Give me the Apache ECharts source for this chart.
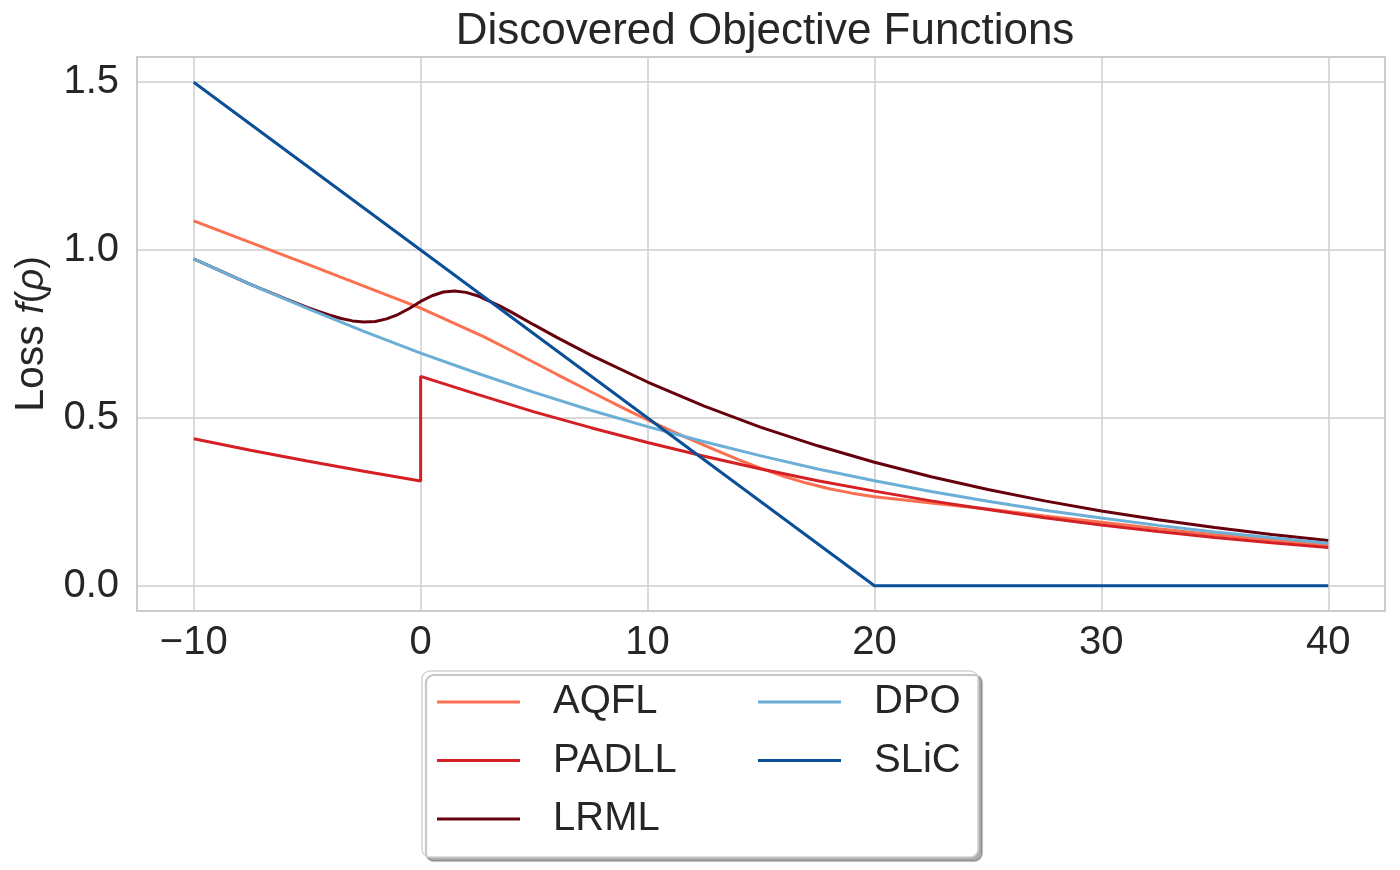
<!DOCTYPE html>
<html>
<head>
<meta charset="utf-8">
<script src="https://cdn.jsdelivr.net/npm/echarts@6/dist/echarts.min.js"></script>
<style>
html, body { margin: 0; padding: 0; background: #fff; }
#chart { width: 1400px; height: 870px; }
</style>
</head>
<body>
<div id="chart"></div>
<script>
// values
const xTicks = [-10, 0, 10, 20, 30, 40];
const yTicks = [0, 0.5, 1.0, 1.5];

const aqflX = [-10, -5, 0, 2.75, 4, 5, 6, 7.5, 9, 10, 11, 12, 13, 14, 15, 16, 17, 18, 19, 20, 22.5, 25, 27.5, 30, 32.5, 35, 37.5, 40];
const aqflY = [1.087, 0.958, 0.827, 0.743, 0.700, 0.665, 0.630, 0.578, 0.527, 0.494, 0.463, 0.433, 0.404, 0.376, 0.350, 0.326, 0.306, 0.289, 0.276, 0.265, 0.247, 0.229, 0.208, 0.189, 0.170, 0.152, 0.136, 0.122];

const padllX = [-10, -7.5, -5, -2.5, 0, 0, 2.5, 5, 7.5, 10, 12.5, 15, 17.5, 20, 22.5, 25, 27.5, 30, 32.5, 35, 37.5, 40];
const padllY = [0.438, 0.404, 0.372, 0.341, 0.312, 0.624, 0.570, 0.518, 0.471, 0.427, 0.386, 0.348, 0.313, 0.282, 0.253, 0.227, 0.203, 0.181, 0.162, 0.144, 0.128, 0.114];

const lrmlX = [-10, -7.5, -6, -5, -4.5, -4, -3.5, -3, -2.5, -2, -1.5, -1, -0.5, 0, 0.5, 1, 1.5, 2, 2.5, 3, 3.5, 4, 5, 6, 7.5, 10, 12.5, 15, 17.5, 20, 22.5, 25, 27.5, 30, 32.5, 35, 37.5, 40];
const lrmlY = [0.974, 0.898, 0.856, 0.829, 0.817, 0.806, 0.796, 0.789, 0.786, 0.787, 0.795, 0.808, 0.826, 0.847, 0.864, 0.875, 0.878, 0.874, 0.864, 0.849, 0.833, 0.815, 0.777, 0.740, 0.687, 0.607, 0.535, 0.472, 0.417, 0.368, 0.325, 0.287, 0.253, 0.223, 0.197, 0.174, 0.153, 0.135];

const dpoX = [-10, -7.5, -5, -2.5, 0, 2.5, 5, 7.5, 10, 12.5, 15, 17.5, 20, 22.5, 25, 27.5, 30, 32.5, 35, 37.5, 40];
const dpoY = [0.974, 0.898, 0.826, 0.758, 0.693, 0.633, 0.576, 0.523, 0.474, 0.429, 0.387, 0.348, 0.313, 0.281, 0.252, 0.225, 0.202, 0.180, 0.160, 0.143, 0.127];

const slicX = [-10, 0, 20, 40];
const slicY = [1.5, 1.0, 0.0, 0.0];

const FONT = 'Liberation Sans';
const TXT = '#262626';

function pairs(xs, ys) {
	return xs.map((x, i) => [x, ys[i]]);
}

function lineSeries(name, xs, ys, color) {
	return {
		name: name,
		type: 'line',
		data: pairs(xs, ys),
		showSymbol: false,
		symbol: 'none',
		smooth: false,
		z: 3,
		itemStyle: { color: color },
		lineStyle: { color: color, width: 3 }
	};
}

var myChart = echarts.init(document.getElementById('chart'));

var option = {
	animation: false,
	backgroundColor: '#ffffff',
	textStyle: { fontFamily: FONT, color: TXT },
	title: {
		text: 'Discovered Objective Functions',
		left: 760,
		textAlign: 'center',
		top: 5,
		textStyle: { fontFamily: FONT, fontSize: 44, fontWeight: 'normal', color: TXT }
	},
	grid: {
		left: 137,
		right: 15,
		top: 57,
		bottom: 259,
		show: true,
		borderColor: '#cccccc',
		borderWidth: 2,
		containLabel: false
	},
	xAxis: {
		type: 'value',
		min: -12.5,
		max: 42.5,
		axisLine: { show: false },
		axisTick: { show: false },
		splitLine: { show: false },
		axisLabel: {
			customValues: xTicks,
			margin: 12,
			fontSize: 40,
			fontFamily: FONT,
			color: TXT,
			formatter: v => (v < 0 ? '\u2212' + Math.abs(v) : String(v))
		}
	},
	yAxis: {
		type: 'value',
		min: -0.075,
		max: 1.575,
		axisLine: { show: false },
		axisTick: { show: false },
		splitLine: { show: false },
		axisLabel: {
			customValues: yTicks,
			margin: 18,
			fontSize: 40,
			fontFamily: FONT,
			color: TXT,
			formatter: v => v.toFixed(1)
		},
		name: '{n|Loss }{i|f}{p|(}{i|ρ}{p|)}',
		nameLocation: 'middle',
		nameGap: 82,
		nameTextStyle: {
			rich: {
				n: { fontSize: 41, fontFamily: FONT, color: TXT },
				p: { fontSize: 38, fontFamily: FONT, color: TXT },
				i: { fontSize: 38, fontFamily: FONT, fontStyle: 'italic', color: TXT }
			}
		}
	},
	graphic: [{
		type: 'rect',
		z: 3,
		shape: { x: 422, y: 671, width: 556, height: 186, r: 8 },
		style: {
			fill: '#ffffff',
			stroke: '#d4d4d4',
			lineWidth: 1.5,
			shadowColor: 'rgba(0,0,0,0.32)',
			shadowBlur: 1,
			shadowOffsetX: 4,
			shadowOffsetY: 4
		}
	}],
	legend: [
		{
			data: ['AQFL', 'PADLL', 'LRML'],
			orient: 'vertical',
			left: 437,
			top: 682,
			padding: 0,
			itemGap: 18.5,
			itemWidth: 83,
			itemHeight: 3,
			icon: 'rect',
			z: 5,
			textStyle: { fontSize: 40, fontFamily: FONT, color: TXT, lineHeight: 40, padding: [0, 0, 0, 28] }
		},
		{
			data: ['DPO', 'SLiC'],
			orient: 'vertical',
			left: 758,
			top: 682,
			padding: 0,
			itemGap: 18.5,
			itemWidth: 83,
			itemHeight: 3,
			icon: 'rect',
			z: 5,
			textStyle: { fontSize: 40, fontFamily: FONT, color: TXT, lineHeight: 40, padding: [0, 0, 0, 28] }
		}
	],
	series: [
		{
			// grid lines at the tick positions
			name: 'grid',
			type: 'line',
			data: [],
			z: 1,
			markLine: {
				silent: true,
				z: 1,
				symbol: ['none', 'none'],
				label: { show: false },
				lineStyle: { color: '#cccccc', width: 1.5, type: 'solid' },
				data: xTicks.map(v => ({ xAxis: v })).concat(yTicks.map(v => ({ yAxis: v })))
			}
		},
		lineSeries('AQFL', aqflX, aqflY, '#fb7050'),
		lineSeries('PADLL', padllX, padllY, '#d42024'),
		lineSeries('LRML', lrmlX, lrmlY, '#67000d'),
		lineSeries('DPO', dpoX, dpoY, '#6baed6'),
		lineSeries('SLiC', slicX, slicY, '#0b4f97')
	]
};

myChart.setOption(option);
</script>
</body>
</html>
